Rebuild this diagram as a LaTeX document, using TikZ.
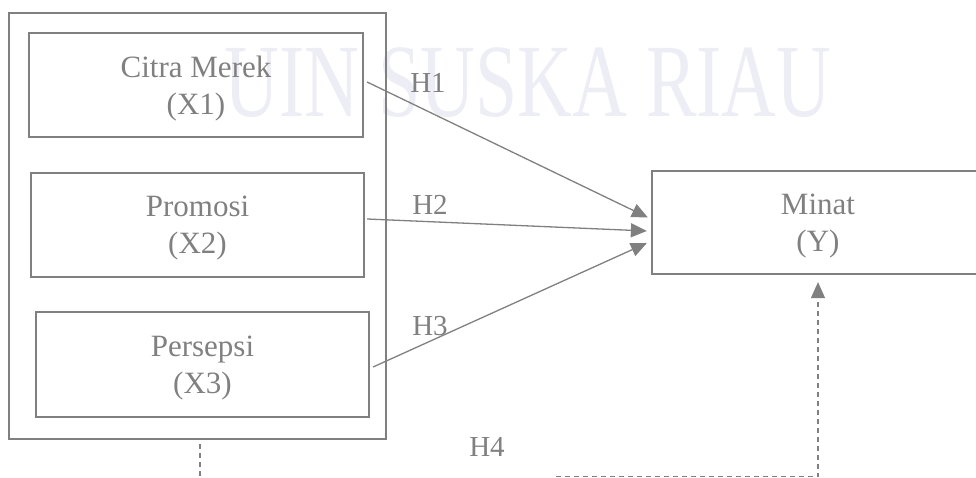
\documentclass[tikz,border=0pt]{standalone}
\usepackage{fontspec}
\setmainfont{Liberation Serif}
\usetikzlibrary{arrows.meta,calc}
\definecolor{ink}{RGB}{128,128,128}
\definecolor{wmark}{RGB}{237,237,245}
\begin{document}
\begin{tikzpicture}[x=1pt,y=-1pt,
  frame/.style={draw=ink,line width=2.2pt,inner sep=0pt},
  varbox/.style={frame,minimum width=333pt,minimum height=104pt,align=center,
    text=ink,text depth=0pt,font=\fontsize{31}{37}\selectfont},
  hlabel/.style={text=ink,inner sep=0pt,font=\fontsize{29}{34}\selectfont},
  link/.style={draw=ink,line width=1.3pt,-{Triangle[length=16pt,width=14pt]}},
  dlink/.style={link,line width=1.2pt,dash pattern=on 5pt off 4pt}]
\useasboundingbox (0,0) rectangle (976,478);
\clip (0,0) rectangle (976,478);

% background watermark
\node[text=wmark,inner sep=0pt,anchor=base,xscale=0.73,
  font=\fontsize{104}{104}\selectfont] (wm) at (528,117) {UIN SUSKA RIAU};

% independent variables inside the grouping frame
\node[frame,minimum width=377pt,minimum height=426pt] (outer) at (197.5,226) {};
\node[varbox,minimum width=334pt] (x1) at (196,85) {Citra Merek\\(X1)};
\node[varbox] (x2) at (197.5,225) {Promosi\\(X2)};
\node[varbox,minimum height=105pt] (x3) at (202.5,364.5) {Persepsi\\(X3)};

% dependent variable
\node[varbox,minimum width=332pt,minimum height=103pt] (minat) at (818,222.5) {Minat\\(Y)};

% hypothesis paths
\draw[link] ($(x1.east)+(3,-3)$) -- ($(minat.west)+(-3,-5)$);
\draw[link] ($(x2.east)+(2,-6)$) -- ($(minat.west)+(-4,8.5)$);
\draw[link] ($(x3.east)+(3,2.5)$) -- ($(minat.west)+(-4,20.5)$);

\node[hlabel] (h1) at (428,83) {H1};
\node[hlabel] (h2) at (430,205) {H2};
\node[hlabel] (h3) at (430,326) {H3};
\node[hlabel] (h4) at (487,447) {H4};

% simultaneous effect (H4)
\coordinate (h4down) at ($(outer.south)+(2.5,4)$);
\coordinate (h4low) at (556,476.5);
\draw[draw=ink,line width=1.2pt,dash pattern=on 5pt off 4pt] (h4down) -- (h4down |- 0,490);
\draw[dlink] (h4low) -- (h4low -| minat.south) -- ($(minat.south)+(0,7)$);
\end{tikzpicture}
\end{document}
